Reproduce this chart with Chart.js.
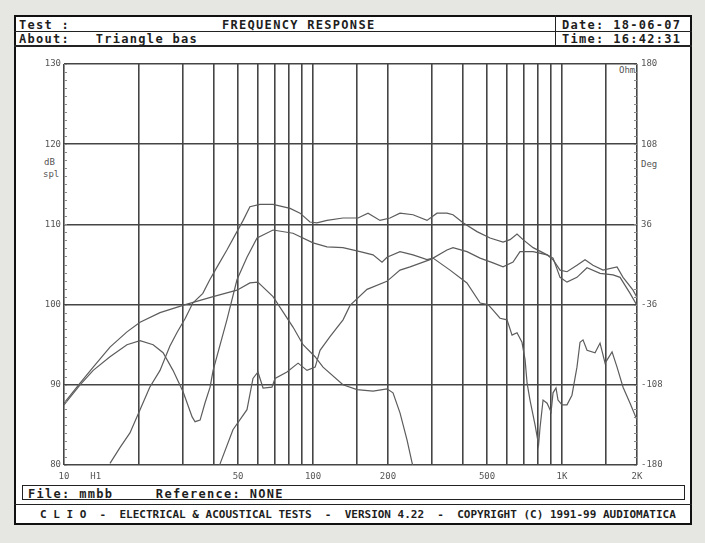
<!DOCTYPE html>
<html>
<head>
<meta charset="utf-8">
<script src="https://cdn.jsdelivr.net/npm/chart.js@4.4.1/dist/chart.umd.min.js"></script>
<style>
body{margin:0;width:705px;height:543px;background:#e6e6e2;overflow:hidden;font-family:"DejaVu Sans Mono",monospace;font-weight:bold;color:#1e1e1e}
.t{position:absolute;white-space:pre;font-size:12px;letter-spacing:1.3px;line-height:12px}
.s{position:absolute;white-space:pre;font-size:9px;font-weight:normal;color:#555;line-height:9px}
#frame{position:absolute;left:14px;top:15px;width:678px;height:510px;box-sizing:border-box;border:2px solid #111;background:#fff}
.hl{position:absolute;height:1px;background:#222}
.vl{position:absolute;width:1px;background:#222}
#box{position:absolute;left:22px;top:485px;width:663px;height:15px;box-sizing:border-box;border:1px solid #222}
canvas{position:absolute;left:0;top:0}
</style>
</head>
<body>
<div id="frame"></div>
<div class="hl" style="left:14px;top:31px;width:678px"></div>
<div class="hl" style="left:14px;top:45px;width:678px;height:2px"></div>
<div class="vl" style="left:555px;top:15px;height:31px"></div>
<div class="t" style="left:19px;top:19px">Test :</div>
<div class="t" style="left:222px;top:19px">FREQUENCY RESPONSE</div>
<div class="t" style="left:562px;top:19px">Date: 18-06-07</div>
<div class="t" style="left:19px;top:33px">About:   Triangle bas</div>
<div class="t" style="left:562px;top:33px">Time: 16:42:31</div>
<div class="s" style="left:44px;top:158px">dB</div>
<div class="s" style="left:43px;top:170px">spl</div>
<div class="s" style="left:641px;top:160px">Deg</div>
<div class="s" style="left:619px;top:66px">Ohm</div>
<div id="box"></div>
<div class="t" style="left:28px;top:488px">File: mmbb     Reference: NONE</div>
<div class="hl" style="left:14px;top:504px;width:678px"></div>
<div class="t" style="left:40px;top:509px;font-size:11px;letter-spacing:0px">C L I O  -  ELECTRICAL &amp; ACOUSTICAL TESTS  -  VERSION 4.22  -  COPYRIGHT (C) 1991-99 AUDIOMATICA</div>
<canvas id="chart" width="705" height="543"></canvas>
<script>
// curves: frequency (Hz) and level (dB spl)
const freqA = [15.3, 16.8, 18.4, 20.2, 22.1, 24.3, 26.6, 28.4, 30.7, 32.9, 36.1, 38.5, 41.2, 45.1, 49.5, 52.4, 55.8, 61.2, 69.1, 80.9, 88.7, 97.2, 103.7, 113.8, 131.9, 151.6, 166.3, 185.8, 203.8, 223.5, 252.1, 286.9, 314.7, 345.1, 364.9, 400.2, 455.5, 513.9, 579.7, 618.3, 659.5, 697.3, 765.1, 870.9, 920.2, 981.7, 1047, 1148, 1237, 1331, 1461, 1663, 1758, 1928, 2000]
const splA = [80.2, 82.2, 84.0, 86.9, 89.7, 91.8, 94.8, 96.5, 98.3, 100.2, 101.4, 103.1, 104.7, 106.8, 109.1, 110.5, 112.2, 112.5, 112.5, 112.0, 111.4, 110.3, 110.2, 110.5, 110.8, 110.8, 111.4, 110.5, 110.8, 111.4, 111.2, 110.5, 111.4, 111.4, 111.2, 110.2, 109.1, 108.3, 107.8, 108.1, 108.8, 108.1, 107.1, 106.2, 105.6, 104.3, 104.1, 104.9, 105.6, 104.9, 104.3, 104.7, 103.4, 101.8, 100.9]

const freqB = [10, 11.6, 13.1, 15.3, 17.9, 20.2, 22.8, 25.0, 27.4, 30.1, 32.7, 33.6, 35.2, 36.8, 38.6, 39.7, 45.1, 49.5, 54.3, 59.6, 69.1, 83.1, 100, 113.8, 131.9, 154.5, 174.2, 189.3, 198.2, 223.5, 252.1, 286.9, 303.4, 345.1, 364.9, 415.2, 468.6, 528.4, 579.7, 635.7, 678, 765.1, 870.9, 920.2, 981.7, 1047, 1148, 1260, 1421, 1603, 1710, 1876, 2000]
const splB = [87.5, 90.0, 91.8, 93.5, 95.0, 95.5, 95.0, 94.0, 91.8, 89.1, 86.0, 85.4, 85.6, 87.7, 89.7, 91.8, 98.1, 103.1, 105.9, 108.3, 109.3, 108.9, 107.7, 107.2, 107.1, 106.6, 106.2, 105.3, 105.9, 106.6, 106.2, 105.6, 105.8, 106.8, 107.1, 106.6, 105.8, 105.2, 104.7, 105.3, 106.6, 106.6, 106.2, 105.8, 103.4, 102.8, 103.4, 104.6, 103.9, 103.7, 103.4, 101.4, 99.9]

const freqC = [10, 11.6, 13.1, 15.3, 17.9, 20.2, 24.3, 30.7, 39.7, 49.5, 55.8, 60, 69.1, 83.1, 91.2, 101.9, 109.7, 131.9, 150.2, 174.2, 198.2, 209.5, 223.5, 238.6, 249.8, 270]
const splC = [87.7, 90.2, 92.2, 94.7, 96.6, 97.8, 99.0, 100.0, 101.0, 101.8, 102.7, 102.8, 101.0, 97.2, 95.0, 93.5, 92.2, 90.0, 89.4, 89.2, 89.5, 89.0, 86.5, 83.1, 80.3, 76.5]

const freqE = [41, 42.4, 47.7, 54.3, 57.4, 60.1, 63.0, 68.4, 70.4, 78.6, 87.1, 94.6, 102, 106.7, 117, 132, 140.8, 164.8, 198, 223.5, 245.3, 295, 303.4, 355, 415, 469, 504.6, 528.4, 563.6, 601.3, 629.8, 659.5, 690.5, 710.6, 723.9, 743.6, 779.2, 805, 816.2, 839, 870.9, 903.6, 920.2, 945.8, 963.4, 1000, 1047, 1096, 1148, 1181, 1214, 1260, 1357, 1421, 1489, 1588, 1663, 1758, 1876, 2000]
const splE = [78.5, 80.2, 84.4, 86.9, 90.8, 91.6, 89.6, 89.7, 90.8, 91.6, 92.7, 91.8, 92.2, 94.3, 96.0, 98.1, 99.9, 101.9, 102.9, 104.3, 104.7, 105.6, 105.8, 104.3, 102.7, 100.2, 100.0, 99.3, 98.3, 98.1, 96.2, 96.5, 95.3, 93.1, 90.2, 88.1, 85.0, 82.5, 84.7, 88.1, 87.7, 86.6, 89.0, 89.6, 88.1, 87.5, 87.5, 88.7, 92.2, 95.3, 95.6, 94.3, 94.0, 95.2, 92.7, 94.1, 92.2, 89.7, 87.7, 85.6]

// axes
const gridFreqs = [10, 20, 30, 40, 50, 60, 70, 80, 90, 100, 150, 200, 300, 400, 500, 600, 700, 800, 900, 1000, 1500, 2000]
const labelFreqs = [10, 13.4, 50, 100, 200, 500, 1000, 2000]
const labelText = ['10', 'H1', '50', '100', '200', '500', '1K', '2K']
const phaseTicks = [-180, -108, -36, 36, 108, 180]

function toPoints(fs, ys) {
    let pts = []
    for (let i = 0; i < fs.length; i++) {
        pts.push({x: fs[i], y: ys[i]})
    }
    return pts
}

const lineCol = '#5c5c5c'
const gridCol = '#454545'
const tickFont = {family: 'DejaVu Sans Mono', size: 9}

function curve(fs, ys) {
    return {
        data: toPoints(fs, ys),
        borderColor: lineCol,
        borderWidth: 1.2,
        pointRadius: 0,
        tension: 0,
        fill: false
    }
}

// little tick marks on both side axes, every dB
const minorTicks = {
    id: 'minorTicks',
    afterDraw(chart) {
        const ctx = chart.ctx
        const y = chart.scales.y
        const a = chart.chartArea
        ctx.save()
        ctx.strokeStyle = '#888'
        ctx.lineWidth = 1
        for (let v = 80; v <= 130; v++) {
            const py = Math.round(y.getPixelForValue(v)) + 0.5
            ctx.beginPath()
            ctx.moveTo(a.left, py); ctx.lineTo(a.left + 3, py)
            ctx.moveTo(a.right - 3, py); ctx.lineTo(a.right, py)
            ctx.stroke()
        }
        ctx.restore()
    }
}

new Chart(document.getElementById('chart').getContext('2d'), {
    type: 'line',
    data: {
        datasets: [
            curve(freqA, splA),
            curve(freqB, splB),
            curve(freqC, splC),
            curve(freqE, splE)
        ]
    },
    plugins: [minorTicks],
    options: {
        responsive: false,
        animation: false,
        devicePixelRatio: 1,
        layout: {padding: {left: 34, right: 28, top: 64, bottom: 58}},
        plugins: {legend: {display: false}, tooltip: {enabled: false}},
        scales: {
            x: {
                type: 'logarithmic',
                min: 10,
                max: 2000,
                afterBuildTicks: s => {
                    s.ticks = gridFreqs.concat([13.4]).sort((a, b) => a - b).map(v => ({value: v}))
                },
                afterFit: s => { s.height = 20 },
                ticks: {
                    autoSkip: false,
                    maxRotation: 0,
                    padding: 6,
                    color: '#555',
                    font: tickFont,
                    callback: v => {
                        let i = labelFreqs.indexOf(v)
                        return i < 0 ? '' : labelText[i]
                    }
                },
                grid: {
                    color: c => (c.tick && c.tick.value === 13.4) ? 'rgba(0,0,0,0)' : gridCol,
                    lineWidth: 1.6,
                    drawTicks: false
                },
                border: {display: false}
            },
            y: {
                position: 'left',
                min: 80,
                max: 130,
                afterFit: s => { s.width = 30 },
                ticks: {stepSize: 10, padding: 3, color: '#555', font: tickFont},
                grid: {color: gridCol, lineWidth: 1.6, drawTicks: false},
                border: {display: false}
            },
            y2: {
                position: 'right',
                min: -180,
                max: 180,
                afterBuildTicks: s => { s.ticks = phaseTicks.map(v => ({value: v})) },
                afterFit: s => { s.width = 40 },
                ticks: {padding: 4, color: '#555', font: tickFont},
                grid: {drawOnChartArea: false, drawTicks: false},
                border: {display: false}
            }
        }
    }
})
</script>
</body>
</html>
